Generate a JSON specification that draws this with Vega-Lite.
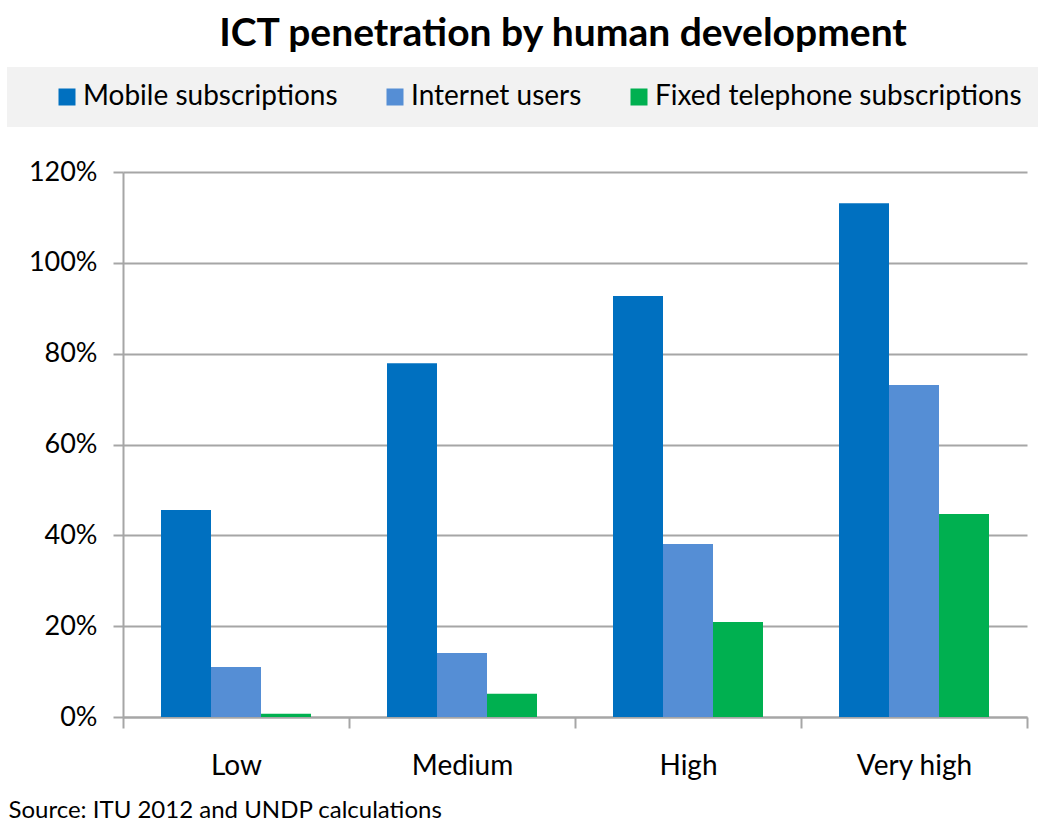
{
  "$schema": "https://vega.github.io/schema/vega-lite/v6.json",
  "width": 904,
  "height": 545,
  "autosize": {"type": "none"},
  "padding": {"left": 123, "top": 172, "right": 17, "bottom": 108},
  "background": "white",
  "config": {
    "font": "Lato",
    "view": {"stroke": null},
    "axis": {"labelColor": "#000", "titleColor": "#000", "domainColor": "#a6a6a6", "tickColor": "#a6a6a6", "gridColor": "#a6a6a6", "domainWidth": 2, "tickWidth": 2, "gridWidth": 2}
  },
  "title": {
    "text": "ICT penetration by human development",
    "fontSize": 39,
    "fontWeight": "bold",
    "color": "#000",
    "anchor": "middle",
    "offset": 13,
    "dx": -12
  },
  "data": {
    "values": [
      {"level": "Low", "series": "Mobile subscriptions", "value": 0.456},
      {"level": "Low", "series": "Internet users", "value": 0.110},
      {"level": "Low", "series": "Fixed telephone subscriptions", "value": 0.007},
      {"level": "Medium", "series": "Mobile subscriptions", "value": 0.779},
      {"level": "Medium", "series": "Internet users", "value": 0.141},
      {"level": "Medium", "series": "Fixed telephone subscriptions", "value": 0.051},
      {"level": "High", "series": "Mobile subscriptions", "value": 0.927},
      {"level": "High", "series": "Internet users", "value": 0.381},
      {"level": "High", "series": "Fixed telephone subscriptions", "value": 0.209},
      {"level": "Very high", "series": "Mobile subscriptions", "value": 1.131},
      {"level": "Very high", "series": "Internet users", "value": 0.731},
      {"level": "Very high", "series": "Fixed telephone subscriptions", "value": 0.447}
    ]
  },
  "mark": {"type": "bar"},
  "encoding": {
    "x": {
      "field": "level",
      "type": "nominal",
      "sort": ["Low", "Medium", "High", "Very high"],
      "scale": {"paddingInner": 0, "paddingOuter": 0},
      "axis": {
        "labelAngle": 0,
        "labelFontSize": 28,
        "labelPadding": 24,
        "tickBand": "extent",
        "tickSize": 11,
        "grid": false,
        "title": "Source: ITU 2012 and UNDP calculations",
        "titleFontSize": 24,
        "titleFontWeight": "normal",
        "titleAnchor": "start",
        "titleAlign": "left",
        "titleX": -115,
        "titleY": 93,
        "titleBaseline": "middle"
      }
    },
    "xOffset": {
      "field": "series",
      "type": "nominal",
      "sort": ["Mobile subscriptions", "Internet users", "Fixed telephone subscriptions"],
      "scale": {"paddingInner": 0, "paddingOuter": 0.76}
    },
    "y": {
      "field": "value",
      "type": "quantitative",
      "scale": {"domain": [0, 1.2], "nice": false},
      "axis": {
        "values": [0, 0.2, 0.4, 0.6, 0.8, 1.0, 1.2],
        "format": ".0%",
        "labelFontSize": 27,
        "labelPadding": 16,
        "tickSize": 10,
        "grid": true,
        "title": null
      }
    },
    "color": {
      "field": "series",
      "type": "nominal",
      "sort": ["Mobile subscriptions", "Internet users", "Fixed telephone subscriptions"],
      "scale": {"domain": ["Mobile subscriptions", "Internet users", "Fixed telephone subscriptions"], "range": ["#0070C0", "#558ED5", "#00B050"]},
      "legend": {
        "orient": "none",
        "legendX": -116,
        "legendY": -105,
        "direction": "horizontal",
        "title": null,
        "fillColor": "#f2f2f2",
        "padding": 16,
        "symbolType": "square",
        "symbolSize": 289,
        "symbolStrokeWidth": 0,
        "symbolOffset": 30,
        "labelFontSize": 28,
        "labelColor": "#000",
        "labelLimit": 500,
        "labelOffset": 2,
        "columnPadding": 13
      }
    }
  }
}
